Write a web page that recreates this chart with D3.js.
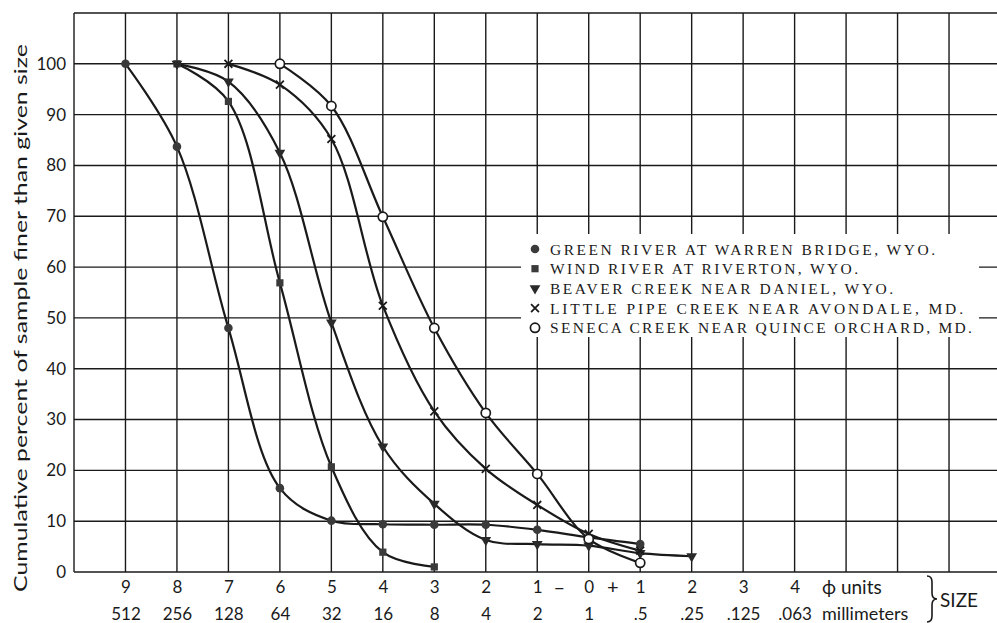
<!DOCTYPE html>
<html>
<head>
<meta charset="utf-8">
<script src="https://cdn.jsdelivr.net/npm/d3@7"></script>
<style>
  body { margin: 0; background: #fff; }
  .grid line { stroke: #1a1a1a; stroke-width: 1.4; }
  .curve { fill: none; stroke: #1a1a1a; stroke-width: 2.2; }
  .tick-label { font-family: Lato, "DejaVu Sans", sans-serif; fill: #1a1a1a; }
  .legend text { font-family: "Liberation Serif", "DejaVu Serif", serif; font-size: 15.5px; fill: #1a1a1a; }
</style>
</head>
<body>
<div class="chartRender"></div>
<script>
var W = 997, H = 623;
var margin = {top: 13, left: 74, bottom: 51};

// phi scale: coarse (negative phi) on the left, fine on the right
var phiTicks = [-9, -8, -7, -6, -5, -4, -3, -2, -1, 0, 1, 2, 3, 4];
var phiLabels = ["9", "8", "7", "6", "5", "4", "3", "2", "1", "0", "1", "2", "3", "4"];
var mmLabels = ["512", "256", "128", "64", "32", "16", "8", "4", "2", "1", ".5", ".25", ".125", ".063"];
var gridPhi = [-9, -8, -7, -6, -5, -4, -3, -2, -1, 0, 1, 2, 3, 4, 5, 6, 7];
var pctTicks = [0, 10, 20, 30, 40, 50, 60, 70, 80, 90, 100];

// [phi, cumulative percent finer]
var greenRiver = [[-9, 100], [-8, 83.7], [-7, 48], [-6, 16.5], [-5, 10.1], [-4, 9.4], [-3, 9.3], [-2, 9.3], [-1, 8.3], [0, 6.8], [1, 5.5]];
var windRiver = [[-8, 100], [-7, 92.6], [-6, 56.9], [-5, 20.7], [-4, 3.9], [-3, 1.0]];
var beaverCreek = [[-8, 100], [-7, 96.5], [-6, 82.5], [-5, 49.1], [-4, 24.7], [-3, 13.4], [-2, 6.3], [-1, 5.5], [0, 5.2], [1, 3.7], [2, 3.1]];
var littlePipeCreek = [[-7, 100], [-6, 95.9], [-5, 85.2], [-4, 52.4], [-3, 31.6], [-2, 20.3], [-1, 13.2], [0, 7.5], [1, 4.2]];
var senecaCreek = [[-6, 100], [-5, 91.7], [-4, 69.9], [-3, 48], [-2, 31.3], [-1, 19.3], [0, 6.5], [1, 1.8]];

var seriesNames = [
  "GREEN RIVER AT WARREN BRIDGE, WYO.",
  "WIND RIVER AT RIVERTON, WYO.",
  "BEAVER CREEK NEAR DANIEL, WYO.",
  "LITTLE PIPE CREEK NEAR AVONDALE, MD.",
  "SENECA CREEK NEAR QUINCE ORCHARD, MD."
];
var seriesData = [greenRiver, windRiver, beaverCreek, littlePipeCreek, senecaCreek];
var seriesMarks = ["dot", "square", "triangle", "cross", "ring"];
var legendWidths = [385, 308, 343, 413, 422];

var x = d3.scaleLinear().domain([-10, 8]).range([margin.left, 1000.5]);
var y = d3.scaleLinear().domain([0, 110]).range([H - margin.bottom, margin.top]);
var y0 = y(0), yTop = y(110);

var svg = d3.select(".chartRender").append("svg")
    .attr("width", W)
    .attr("height", H);

// grid
var grid = svg.append("g").attr("class", "grid");
grid.selectAll("line.h")
    .data(pctTicks.concat([110]))
    .enter().append("line")
    .attr("x1", margin.left).attr("x2", W)
    .attr("y1", function(d){ return y(d); })
    .attr("y2", function(d){ return y(d); });
grid.selectAll("line.v")
    .data([-10].concat(gridPhi))
    .enter().append("line")
    .attr("x1", function(d){ return x(d); })
    .attr("x2", function(d){ return x(d); })
    .attr("y1", yTop).attr("y2", y0);

// y axis labels
var yAxis = d3.axisLeft(y).tickValues(pctTicks).tickSize(0).tickPadding(8);
var gy = svg.append("g")
    .attr("transform", "translate(" + margin.left + ",0)")
    .call(yAxis);
gy.select(".domain").remove();
gy.selectAll("text").attr("class", "tick-label").style("font-size", "17px");

svg.append("text")
    .attr("class", "tick-label")
    .attr("transform", "translate(27," + 318 + ") rotate(-90)")
    .attr("text-anchor", "middle")
    .attr("textLength", 548)
    .attr("lengthAdjust", "spacingAndGlyphs")
    .style("font-size", "17px")
    .text("Cumulative percent of sample finer than given size");

// x axis labels: phi row and mm row
var xPhi = d3.axisBottom(x).tickValues(phiTicks).tickSize(0).tickPadding(9)
    .tickFormat(function(d, i){ return phiLabels[i]; });
var gx1 = svg.append("g").attr("transform", "translate(0," + y0 + ")").call(xPhi);
gx1.select(".domain").remove();
gx1.selectAll("text").attr("class", "tick-label").style("font-size", "17px");

var xMm = d3.axisBottom(x).tickValues(phiTicks).tickSize(0).tickPadding(36)
    .tickFormat(function(d, i){ return mmLabels[i]; });
var gx2 = svg.append("g").attr("transform", "translate(0," + y0 + ")").call(xMm);
gx2.select(".domain").remove();
gx2.selectAll("text").attr("class", "tick-label").style("font-size", "17px");

// sign marks around zero
svg.append("text").attr("class", "tick-label").attr("x", x(-0.57)).attr("y", 594)
    .attr("text-anchor", "middle").style("font-size", "20px").text("–");
svg.append("text").attr("class", "tick-label").attr("x", x(0.47)).attr("y", 594)
    .attr("text-anchor", "middle").style("font-size", "20px").text("+");

svg.append("text").attr("class", "tick-label").attr("x", 822).attr("y", 594)
    .style("font-size", "19px").text("ϕ units");
svg.append("text").attr("class", "tick-label").attr("x", 822).attr("y", 620)
    .style("font-size", "18px").text("millimeters");
// curly brace grouping both label rows
svg.append("path")
    .attr("d", "M927,576 Q932,576 932,582 L932,593 Q932,599 937,599 Q932,599 932,605 L932,616 Q932,622 927,622")
    .attr("fill", "none").attr("stroke", "#1a1a1a").attr("stroke-width", 1.6);
svg.append("text").attr("class", "tick-label").attr("x", 940).attr("y", 607)
    .style("font-size", "19px").text("SIZE");

// curves
var line = d3.line()
    .curve(d3.curveCatmullRom.alpha(0.5))
    .x(function(d){ return x(d[0]); })
    .y(function(d){ return y(d[1]); });

svg.selectAll("path.curve")
    .data(seriesData)
    .enter().append("path")
    .attr("class", "curve")
    .attr("d", line);

function drawMark(g, kind) {
  if (kind === "dot") {
    g.append("circle").attr("r", 4.3).attr("fill", "#3a3a3a");
  } else if (kind === "ring") {
    g.append("circle").attr("r", 4.6).attr("fill", "#fff").attr("stroke", "#1a1a1a").attr("stroke-width", 1.7);
  } else if (kind === "square") {
    g.append("path").attr("d", d3.symbol().type(d3.symbolSquare).size(52)).attr("fill", "#3a3a3a");
  } else if (kind === "triangle") {
    g.append("path").attr("d", d3.symbol().type(d3.symbolTriangle).size(50))
      .attr("transform", "rotate(180)").attr("fill", "#2a2a2a");
  } else {
    g.append("path").attr("d", d3.symbol().type(d3.symbolX).size(42))
      .attr("fill", "none").attr("stroke", "#1a1a1a").attr("stroke-width", 1.8);
  }
}

seriesData.forEach(function(data, si){
  svg.append("g").selectAll("g")
    .data(data)
    .enter().append("g")
    .attr("transform", function(d){ return "translate(" + x(d[0]) + "," + y(d[1]) + ")"; })
    .each(function(){ drawMark(d3.select(this), seriesMarks[si]); });
});

// legend
var legend = svg.append("g").attr("class", "legend");
legend.append("rect")
    .attr("x", 521).attr("y", 234).attr("width", 458).attr("height", 103)
    .attr("fill", "#fff");
var rows = legend.selectAll("g.row")
    .data(seriesNames)
    .enter().append("g")
    .attr("transform", function(d, i){ return "translate(535," + (249 + i * 19.7) + ")"; });
rows.each(function(d, i){ drawMark(d3.select(this), seriesMarks[i]); });
rows.append("text")
    .attr("x", 15).attr("y", 5.5)
    .attr("textLength", function(d, i){ return legendWidths[i]; })
    .attr("lengthAdjust", "spacing")
    .text(function(d){ return d; });
</script>
</body>
</html>
